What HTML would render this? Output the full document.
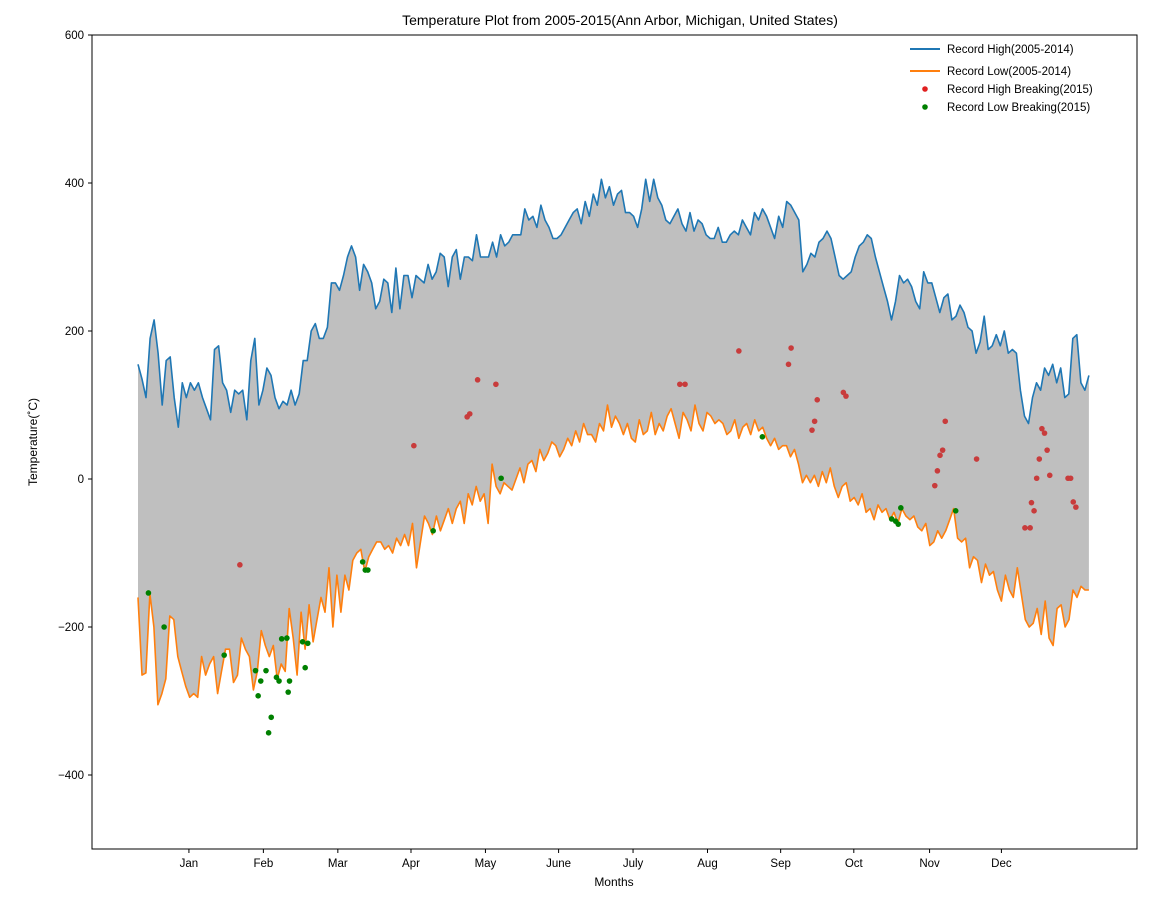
<!DOCTYPE html>
<html><head><meta charset="utf-8"><style>
body{margin:0;background:#fff;font-family:"Liberation Sans",sans-serif;}
svg text{font-family:"Liberation Sans","DejaVu Sans",sans-serif;fill:#000;}
</style></head><body>
<svg id="chart" width="1165" height="896" viewBox="0 0 1165 896">
<text x="620" y="25" font-size="14" text-anchor="middle">Temperature Plot from 2005-2015(Ann Arbor, Michigan, United States)</text>
<text transform="translate(37,442) rotate(-90)" font-size="12" text-anchor="middle">Temperature(˚C)</text>
<text x="614" y="886" font-size="12" text-anchor="middle">Months</text>
<g id="plot"></g>
<g>
<line x1="910" y1="49" x2="940" y2="49" stroke="#1f77b4" stroke-width="2"/>
<text x="947" y="53" font-size="11.5">Record High(2005-2014)</text>
<line x1="910" y1="71" x2="940" y2="71" stroke="#ff7f0e" stroke-width="2"/>
<text x="947" y="75" font-size="11.5">Record Low(2005-2014)</text>
<circle cx="925" cy="89" r="2.8" fill="#e02020"/>
<text x="947" y="93" font-size="11.5">Record High Breaking(2015)</text>
<circle cx="925" cy="107" r="2.8" fill="#008000"/>
<text x="947" y="111" font-size="11.5">Record Low Breaking(2015)</text>
</g>
</svg>
<script>
const highs=[155,135,110,190,215,170,100,160,165,110,70,130,110,130,120,130,110,95,80,175,180,130,120,90,120,115,120,80,160,190,100,120,150,140,110,95,105,100,120,100,115,160,160,200,210,190,190,205,265,265,255,275,300,315,300,255,290,280,265,230,240,270,265,225,285,230,275,275,245,275,270,265,290,270,280,305,300,260,300,310,270,300,300,295,330,300,300,300,320,300,330,315,320,330,330,330,365,350,355,340,370,350,340,325,325,330,340,350,360,365,345,375,355,385,370,405,380,395,370,385,390,360,360,355,340,365,405,375,405,380,370,350,345,355,365,345,335,360,335,350,345,330,325,325,340,320,320,330,335,330,350,340,330,360,350,365,355,340,325,355,340,375,370,360,350,280,290,305,300,320,325,335,325,300,275,270,275,280,300,315,320,330,325,300,280,260,240,215,240,275,265,270,260,240,230,280,265,265,245,225,245,250,215,220,235,225,205,200,170,185,220,175,180,195,180,200,170,175,170,120,85,75,110,130,120,150,140,155,130,150,110,115,190,195,130,120,140];
const lows=[-160,-265,-262,-155,-200,-305,-290,-270,-185,-190,-240,-260,-280,-295,-290,-295,-240,-265,-250,-240,-290,-260,-230,-230,-275,-265,-215,-230,-240,-285,-260,-205,-225,-240,-225,-270,-250,-260,-175,-215,-265,-180,-230,-170,-220,-190,-160,-180,-120,-200,-130,-180,-130,-150,-110,-100,-95,-125,-105,-95,-85,-85,-95,-90,-100,-80,-90,-75,-90,-60,-120,-85,-50,-60,-75,-50,-70,-55,-40,-60,-40,-30,-60,-20,-35,-10,-30,-20,-60,20,-10,-20,-5,-10,-15,0,15,-5,20,25,10,40,25,35,50,45,30,40,55,45,65,50,75,60,60,50,75,65,100,70,85,75,60,75,55,50,80,60,65,90,60,75,65,85,95,75,55,90,80,65,100,75,65,90,85,75,80,75,60,65,80,55,70,75,60,80,65,70,55,45,55,40,45,45,30,40,20,-5,5,-5,5,-10,10,-5,15,-10,-25,-10,-5,-30,-25,-35,-20,-45,-40,-55,-35,-45,-40,-55,-45,-60,-40,-50,-55,-50,-65,-70,-60,-90,-85,-70,-80,-70,-55,-40,-80,-85,-80,-120,-105,-110,-140,-115,-130,-125,-150,-165,-130,-150,-160,-120,-155,-190,-200,-195,-175,-210,-165,-215,-225,-175,-170,-200,-190,-150,-160,-145,-150,-150];
const highBreakDays=[39,105.6,126,127,130,137,207.4,209.4,230,249,250,258,259,260,270,271,305,306,307,308,309,321,339.5,341.5,342,343,344,345,346,347,348,349,356,357,358,359];
const highBreakVals=[-116,45,84,88,134,128,128,128,173,155,177,66,78,107,117,112,-9,11,32,39,78,27,-66,-66,-32,-43,1,27,68,62,39,5,1,1,-31,-38];
const lowBreakDays=[4,10,33,45,46,47,49,50,51,53,54,55,57,57.5,58,63,64,65,86,87,88,113,139,239,288.5,290,291,292,313];
const lowBreakVals=[-154,-200,-238,-259,-293,-273,-259,-343,-322,-268,-273,-216,-215,-288,-273,-220,-255,-222,-112,-123,-123,-70,1,57,-54,-57,-61,-39,-43];
const yTicks=[600,400,200,0,-200,-400];
const months=['Jan','Feb','Mar','Apr','May','June','July','Aug','Sep','Oct','Nov','Dec'];
const monthTickDays=[19.5,48,76.5,104.5,133,161,189.5,218,246,274,303,330.5];

const L=92,R=1137,T=35,B=849,DMIN=-17.6,DMAX=382.4,VMIN=-500,VMAX=600;
const xs=d=>L+(d-DMIN)/(DMAX-DMIN)*(R-L);
const ys=v=>B-(v-VMIN)/(VMAX-VMIN)*(B-T);
const NS='http://www.w3.org/2000/svg';
const g=document.getElementById('plot');
function mk(t,a){const e=document.createElementNS(NS,t);for(const k in a)e.setAttribute(k,a[k]);g.appendChild(e);return e;}
const dayOf=(i,n)=>i*364/(n-1);
const hp=highs.map((v,i)=>[xs(dayOf(i,highs.length)),ys(v)]);
const lp=lows.map((v,i)=>[xs(dayOf(i,lows.length)),ys(v)]);
const pstr=a=>a.map(p=>p[0].toFixed(1)+','+p[1].toFixed(1)).join(' ');
const fill=mk('polygon',{points:pstr(hp)+' '+pstr(lp.slice().reverse()),fill:'#bfbfbf'});


const hl=mk('polyline',{points:pstr(hp),fill:'none',stroke:'#1f77b4','stroke-width':1.6,'stroke-linejoin':'round'});


const ll=mk('polyline',{points:pstr(lp),fill:'none',stroke:'#ff7f0e','stroke-width':1.6,'stroke-linejoin':'round'});


highBreakDays.forEach((d,i)=>{
  const c=mk('circle',{cx:xs(d),cy:ys(highBreakVals[i]),r:2.8,fill:'#c83c3c'});
  
  
});
lowBreakDays.forEach((d,i)=>{
  const c=mk('circle',{cx:xs(d),cy:ys(lowBreakVals[i]),r:2.8,fill:'#008000'});
  
  
});
const frame=mk('rect',{x:L,y:T,width:R-L,height:B-T,fill:'none',stroke:'#000','stroke-width':1});


yTicks.forEach(v=>{
  mk('line',{x1:L-4,x2:L,y1:ys(v),y2:ys(v),stroke:'#000'});
  const t=mk('text',{x:L-8,y:ys(v)+4,'font-size':11.5,'text-anchor':'end'});
  t.textContent=v===0?'0':(v<0?'\u2212'+(-v):String(v));
  
  
});
monthTickDays.forEach((d,i)=>{
  mk('line',{x1:xs(d),x2:xs(d),y1:B,y2:B+4,stroke:'#000'});
  const t=mk('text',{x:xs(d),y:B+18,'font-size':11.5,'text-anchor':'middle'});
  t.textContent=months[i];
  
  
});
</script>
</body></html>
